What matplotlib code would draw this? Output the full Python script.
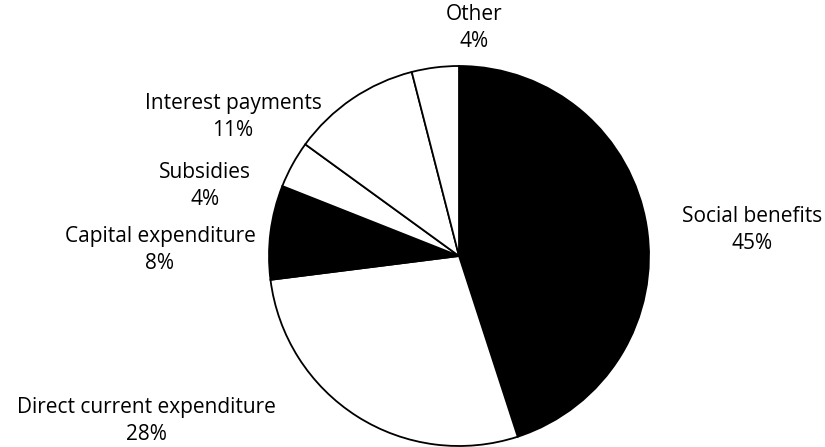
import matplotlib.pyplot as plt

# Government spending shares (%)
categories = ['Social benefits', 'Direct current expenditure', 'Capital expenditure',
              'Subsidies', 'Interest payments', 'Other']
shares = [45, 28, 8, 4, 11, 4]
colors = ['black', 'white', 'black', 'white', 'white', 'white']

# label anchor points in pixel coordinates (x, y from bottom)
label_pos = [(752, 217), (146, 26), (160, 197), (205, 261), (233, 330), (474, 419)]

fig = plt.figure(figsize=(8.25, 4.47), dpi=100)
ax = fig.add_axes([0, 0, 1, 1])
ax.set_xlim(0, 825)
ax.set_ylim(0, 447)
ax.set_aspect('equal')
ax.axis('off')

ax.pie(shares, colors=colors, startangle=90, counterclock=False,
       center=(459, 191), radius=190,
       wedgeprops={'edgecolor': 'black', 'linewidth': 1.3})
ax.set_xlim(0, 825)
ax.set_ylim(0, 447)

for name, val, (x, y) in zip(categories, shares, label_pos):
    ax.text(x, y, f'{name}\n{val}%', ha='center', va='center',
            fontsize=15, family='Open Sans', linespacing=1.4)

plt.savefig('out.png', dpi=100)
